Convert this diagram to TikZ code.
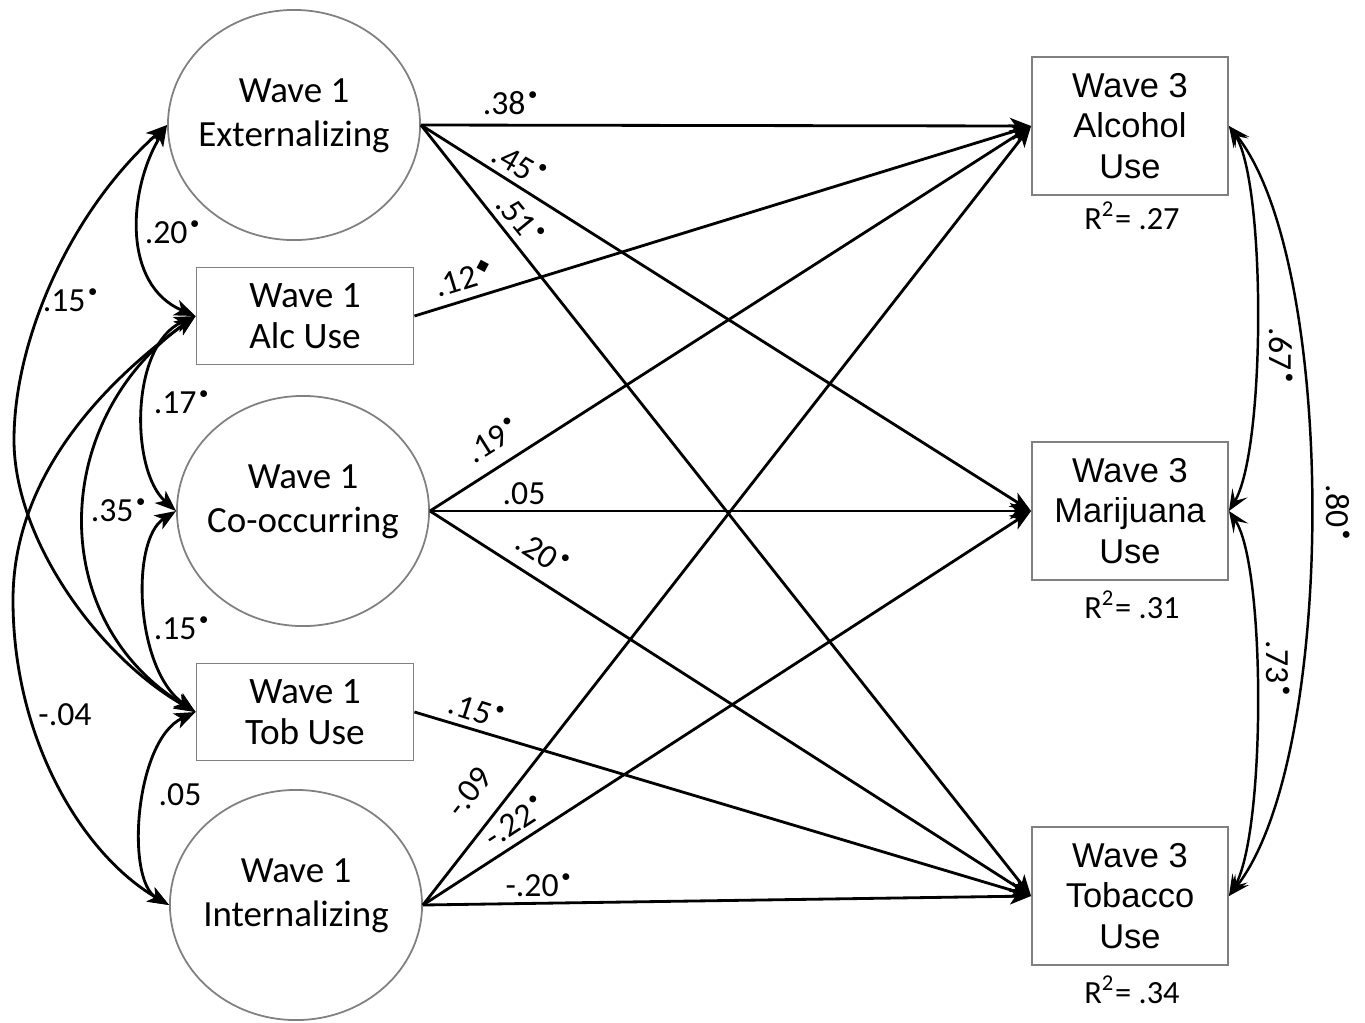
\documentclass[tikz,border=0pt]{standalone}
\usepackage{fontspec}
\setmainfont{Carlito}
\newfontfamily\arialfont{Liberation Sans}
\newfontfamily\symfont{DejaVu Sans}
\usetikzlibrary{shapes.geometric,arrows.meta}

% significance markers
\newcommand\sg{\kern.8pt\raisebox{.45em}{\scalebox{.5}{$\bullet$}}}
\newcommand\dm{\kern.6pt\raisebox{.38em}{\scalebox{.5}{\symfont ◆}}}

\tikzset{
  latent/.style={ellipse, draw=black!50, line width=0.5pt,
    minimum width=2.52cm, minimum height=2.3cm, inner sep=0pt},
  lattext/.style={align=center, inner sep=0pt, yshift=2.6pt,
    font=\fontsize{10.5}{12.7}\selectfont},
  obsone/.style={rectangle, draw=black!50, line width=0.5pt,
    minimum width=2.17cm, minimum height=0.97cm, inner sep=0pt, align=center,
    font=\fontsize{10.6}{11.5}\selectfont},
  obsthree/.style={rectangle, draw=black!50, line width=0.5pt,
    minimum width=1.96cm, minimum height=1.38cm, inner sep=0pt, align=center,
    font=\arialfont\fontsize{9.8}{11.6}\selectfont},
  rsq/.style={inner sep=0pt, font=\fontsize{9.2}{10}\selectfont},
  tip/.tip={Stealth[length=6pt,width=4.6pt,inset=1.6pt]},
  thintip/.tip={Stealth[length=6pt,width=5pt,inset=2.6pt]},
  regpath/.style={line width=0.8pt, -tip},
  covpath/.style={line width=0.8pt, tip-tip},
  rescov/.style={line width=0.7pt, thintip-thintip},
  coef/.style={inner sep=0.5pt, font=\fontsize{9.6}{11}\selectfont}
}

\begin{document}
\begin{tikzpicture}[x=0.01cm, y=-0.01cm]
\useasboundingbox (0,0) rectangle (1365,1023);

% Wave 1 predictors
\node[latent, label={[lattext]center:Wave 1\\Externalizing}] (ext) at (294,125) {};
\node[obsone] (alc1) at (305,316) {Wave 1\\Alc Use};
\node[latent, label={[lattext]center:Wave 1\\Co-occurring}] (co) at (303,511) {};
\node[obsone] (tob1) at (305,712) {Wave 1\\Tob Use};
\node[latent, label={[lattext]center:Wave 1\\Internalizing}] (int) at (296,905) {};

% Wave 3 outcomes
\node[obsthree] (alc3) at (1130,126) {Wave 3\\Alcohol\\Use};
\node[obsthree] (mar3) at (1130,511) {Wave 3\\Marijuana\\Use};
\node[obsthree] (tob3) at (1130,896) {Wave 3\\Tobacco\\Use};
\node[rsq] (r1) at (1132,216) {R\textsuperscript{2}= .27};
\node[rsq] (r2) at (1132,605) {R\textsuperscript{2}= .31};
\node[rsq] (r3) at (1132,990) {R\textsuperscript{2}= .34};

% regression paths
\draw[regpath] (ext.east) -- (alc3.west);
\draw[regpath] (ext.east) -- (mar3.west);
\draw[regpath] (ext.east) -- (tob3.west);
\draw[regpath] (alc1.east) -- (alc3.west);
\draw[regpath] (co.east) -- (alc3.west);
\draw[regpath] (co.east) -- (mar3.west);
\draw[regpath] (co.east) -- (tob3.west);
\draw[regpath] (tob1.east) -- (tob3.west);
\draw[regpath] (int.east) -- (alc3.west);
\draw[regpath] (int.east) -- (mar3.west);
\draw[regpath] (int.east) -- (tob3.west);

% path coefficients
\node[coef] (c38) at (510,103) {.38\sg};
\node[coef, rotate=-30] (c45) at (519,164) {.45\sg};
\node[coef, rotate=-51] (c51) at (520,219) {.51\sg};
\node[coef, rotate=17] (c12) at (463,278) {.12\dm};
\node[coef, rotate=32] (c19) at (492,440) {.19\sg};
\node[coef] (c05) at (524,494) {.05};
\node[coef, rotate=-33] (c20) at (542,553) {.20\sg};
\node[coef, rotate=-18] (c15) at (476,710) {.15\sg};
\node[coef, rotate=52] (c09) at (469,792) {-.09};
\node[coef, rotate=33] (c22) at (514,822) {-.22\sg};
\node[coef] (c20b) at (538,885) {-.20\sg};

% covariances among Wave 1 variables
\draw[covpath] (ext.west) .. controls (128,190) and (122,285) .. (alc1.west);
\draw[covpath] (ext.west) .. controls (70,212) and (14,340) .. (14,440)
  .. controls (14,540) and (99,657) .. (tob1.west);
\draw[covpath] (alc1.west) .. controls (130,345) and (130,470) .. (co.west);
\draw[covpath] (alc1.west) .. controls (50,420) and (45,620) .. (tob1.west);
\draw[covpath] (alc1.west) .. controls (98,387) and (13,480) .. (13,600)
  .. controls (13,740) and (83,855) .. (int.west);
\draw[covpath] (co.west) .. controls (130,540) and (135,670) .. (tob1.west);
\draw[covpath] (tob1.west) .. controls (135,740) and (125,880) .. (int.west);

\node[coef] (k20) at (172,232) {.20\sg};
\node[coef] (k15a) at (70,300) {.15\sg};
\node[coef] (k17) at (181,402) {.17\sg};
\node[coef] (k35) at (118,510) {.35\sg};
\node[coef] (k15b) at (181,628) {.15\sg};
\node[coef] (k04) at (65,715) {-.04};
\node[coef] (k05) at (180,795) {.05};

% residual covariances among Wave 3 outcomes
\draw[rescov] (alc3.east) .. controls (1266,180) and (1266,450) .. (mar3.east);
\draw[rescov] (mar3.east) .. controls (1266,565) and (1266,835) .. (tob3.east);
\draw[rescov] (alc3.east) .. controls (1338,260) and (1338,760) .. (tob3.east);

\node[coef, rotate=-90] (k67) at (1281,355) {.67\sg};
\node[coef, rotate=-90] (k73) at (1278,668) {.73\sg};
\node[coef, rotate=-90] (k80) at (1338,512) {.80\sg};
\end{tikzpicture}
\end{document}
